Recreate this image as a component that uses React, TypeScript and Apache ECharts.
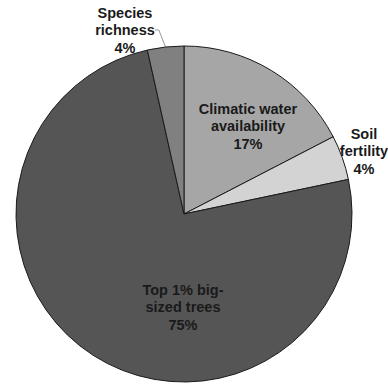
import React, { useEffect, useRef } from "react";
import * as echarts from "echarts";

const categories = [
  "Climatic water\navailability",
  "Soil\nfertility",
  "Top 1% big-\nsized trees",
  "Species\nrichness",
];
const values = [17.4, 4.3, 74.8, 3.5];
const colors = ["#a6a6a6", "#d3d3d3", "#555555", "#808080"];
const labelCenters = [
  [248, 126],
  [364, 151],
  [183, 307],
  [125, 30],
];

export default function App() {
  const ref = useRef<HTMLDivElement>(null);
  useEffect(() => {
    document.body.style.margin = "0";
    const chart = echarts.init(ref.current!, null, { renderer: "svg" });
    chart.setOption({
      animation: false,
      backgroundColor: "#ffffff",
      series: [
        {
          type: "pie",
          center: [184, 214],
          radius: 168,
          startAngle: 90,
          clockwise: true,
          avoidLabelOverlap: false,
          itemStyle: { borderColor: "#1a1a1a", borderWidth: 1 },
          label: {
            show: true,
            formatter: (p: any) => `${p.name}\n${Math.round(p.value)}%`,
            fontFamily: "Liberation Sans, Arial, sans-serif",
            fontWeight: "bold",
            fontSize: 14.5,
            lineHeight: 17.5,
            color: "#1a1a1a",
            align: "center",
          },
          labelLine: {
            show: true,
            length: 6,
            length2: 4,
            lineStyle: { color: "#999999", width: 1 },
          },
          labelLayout: (p: any) => {
            const c = labelCenters[p.dataIndex];
            return { x: c[0], y: c[1], align: "center", verticalAlign: "middle" };
          },
          data: categories.map((name, i) => ({
            name,
            value: values[i],
            itemStyle: { color: colors[i] },
            label: { position: i === 0 || i === 2 ? "inside" : "outside" },
            labelLine: { show: i === 3 },
          })),
        },
      ],
    });
    return () => chart.dispose();
  }, []);
  return <div ref={ref} style={{ width: 388, height: 387 }} />;
}
